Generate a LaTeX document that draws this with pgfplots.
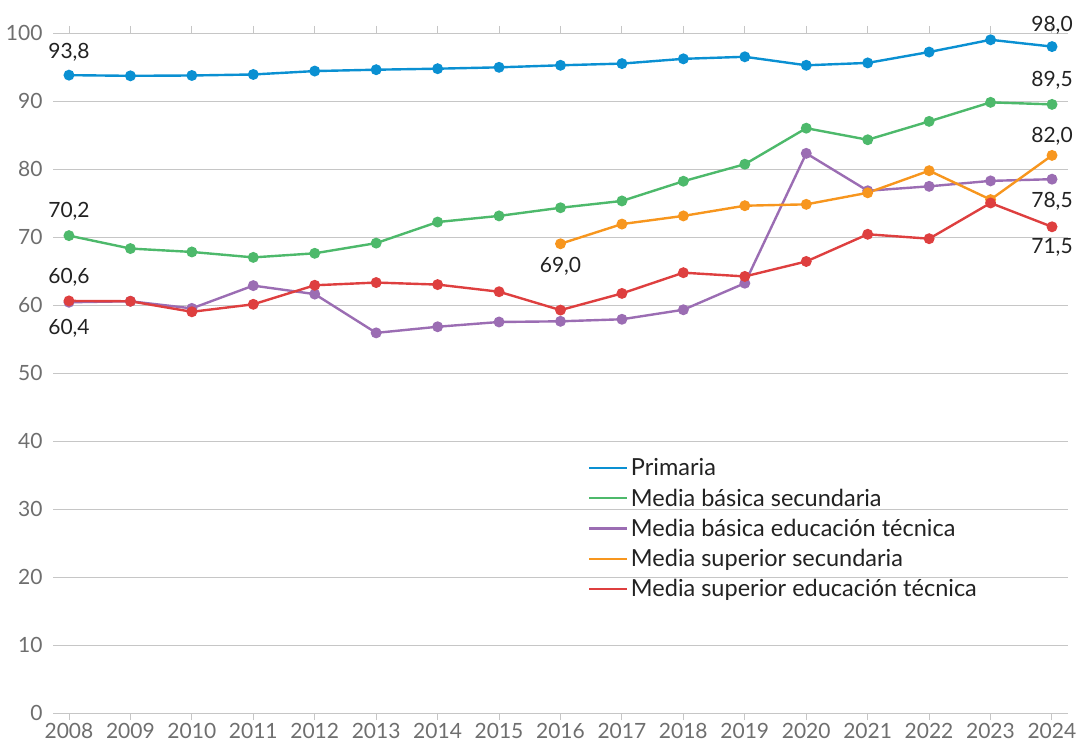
\documentclass[border=0pt]{standalone}
\usepackage{fontspec}
\setmainfont{Lato}
\usepackage{pgfplots}
\pgfplotsset{compat=1.18}
\definecolor{cblue}{HTML}{0A90D2}
\definecolor{cgreen}{HTML}{4DB96B}
\definecolor{cpurple}{HTML}{9B6DB3}
\definecolor{corange}{HTML}{F7961E}
\definecolor{cred}{HTML}{DE3F3F}
\definecolor{cgrid}{HTML}{C6C6C6}
\definecolor{ctick}{HTML}{6E6E6E}
\definecolor{ctext}{HTML}{222222}
\begin{document}
\begin{tikzpicture}[font=\fontsize{21}{25}\selectfont]
\begin{axis}[
  scale only axis, width=1015pt, height=680pt,
  xmin=2007.74, xmax=2024.26, ymin=0, ymax=100,
  xtick={2008,...,2024}, ytick={0,10,...,100},
  /pgf/number format/assume math mode=true,
  x tick label style={/pgf/number format/1000 sep={}, text=ctick},
  y tick label style={text=ctick},
  axis line style={draw=none},
  ymajorgrids, grid style={cgrid, line width=0.9pt},
  tick align=outside, major tick length=7pt,
  x tick style={cgrid, line width=0.9pt},
  y tick style={draw=none},
  clip=false,
  every axis plot/.append style={line width=2.4pt, mark=*, mark size=4.2pt},
  legend style={draw=none, fill=none, at={(0.524,0.381)}, anchor=north west,
    row sep=6.5pt, font=\fontsize{23.5}{28}\selectfont, text=ctext,
    nodes={inner sep=2.5pt}},
  legend cell align=left,
  legend image code/.code={\draw[#1, mark=none, line width=2.4pt] (0pt,0pt) -- (38pt,0pt);},
]
\addplot[cblue, mark options={fill=cblue, draw=cblue}] coordinates {
(2008,93.8)(2009,93.7)(2010,93.75)(2011,93.9)(2012,94.4)(2013,94.6)(2014,94.75)(2015,94.95)
(2016,95.25)(2017,95.5)(2018,96.2)(2019,96.5)(2020,95.25)(2021,95.6)(2022,97.2)(2023,99.0)(2024,98.0)};
\addlegendentry{Primaria}
\addplot[cgreen, mark options={fill=cgreen, draw=cgreen}] coordinates {
(2008,70.2)(2009,68.3)(2010,67.8)(2011,67.0)(2012,67.6)(2013,69.1)(2014,72.2)(2015,73.1)
(2016,74.3)(2017,75.3)(2018,78.2)(2019,80.7)(2020,86.0)(2021,84.3)(2022,87.0)(2023,89.8)(2024,89.5)};
\addlegendentry{Media básica secundaria}
\addplot[cpurple, mark options={fill=cpurple, draw=cpurple}] coordinates {
(2008,60.4)(2009,60.55)(2010,59.5)(2011,62.85)(2012,61.6)(2013,55.9)(2014,56.8)(2015,57.5)
(2016,57.6)(2017,57.9)(2018,59.3)(2019,63.2)(2020,82.3)(2021,76.8)(2022,77.45)(2023,78.25)(2024,78.5)};
\addlegendentry{Media básica educación técnica}
\addplot[corange, mark options={fill=corange, draw=corange}] coordinates {
(2016,69.0)(2017,71.9)(2018,73.1)(2019,74.6)(2020,74.8)(2021,76.5)(2022,79.75)(2023,75.5)(2024,82.0)};
\addlegendentry{Media superior secundaria}
\addplot[cred, mark options={fill=cred, draw=cred}] coordinates {
(2008,60.6)(2009,60.55)(2010,59.0)(2011,60.1)(2012,62.9)(2013,63.3)(2014,63.0)(2015,61.95)
(2016,59.25)(2017,61.7)(2018,64.75)(2019,64.2)(2020,66.4)(2021,70.4)(2022,69.75)(2023,75.0)(2024,71.5)};
\addlegendentry{Media superior educación técnica}
\coordinate (bl) at (rel axis cs:0,0);
\begin{scope}[every node/.style={text=ctext, inner sep=0pt}]
\node at (axis cs:2008,93.8) [yshift=23pt] {93,8};
\node at (axis cs:2008,70.2) [yshift=24pt] {70,2};
\node at (axis cs:2008,60.6) [yshift=24pt] {60,6};
\node at (axis cs:2008,60.4) [yshift=-26pt] {60,4};
\node at (axis cs:2016,69.0) [yshift=-23pt] {69,0};
\node at (axis cs:2024,98.0) [yshift=21pt] {98,0};
\node at (axis cs:2024,89.5) [yshift=24pt] {89,5};
\node at (axis cs:2024,82.0) [yshift=19pt] {82,0};
\node at (axis cs:2024,78.5) [yshift=-22pt] {78,5};
\node at (axis cs:2024,71.5) [yshift=-21pt] {71,5};
\end{scope}
\end{axis}
\pgfresetboundingbox
\path (bl) ++(-53pt,-33pt) rectangle ++(1076pt,746pt);
\end{tikzpicture}
\end{document}
